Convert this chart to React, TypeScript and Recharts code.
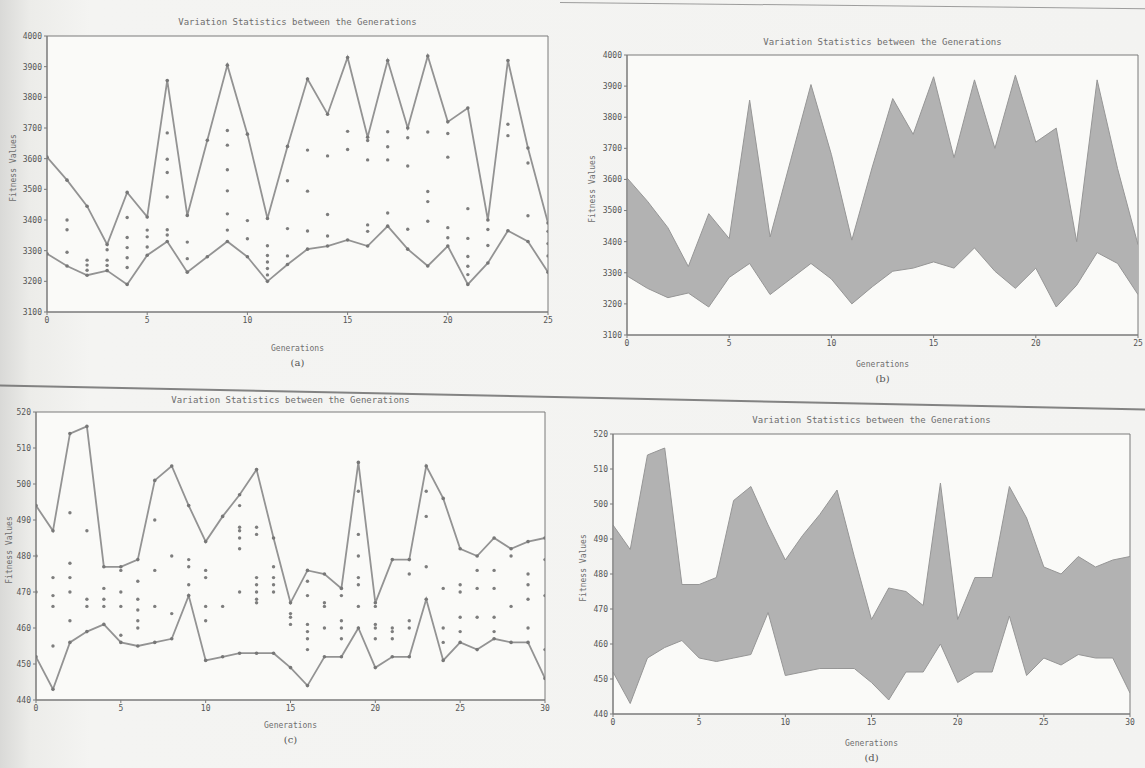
import React from "react";
import { ComposedChart, Line, Area, Scatter, XAxis, YAxis, ReferenceArea } from "recharts";

// generations 0..25 for panels (a)/(b), 0..30 for (c)/(d)
const gensA = [0, 1, 2, 3, 4, 5, 6, 7, 8, 9, 10, 11, 12, 13, 14, 15, 16, 17, 18, 19, 20, 21, 22, 23, 24, 25];
const maxA = [3605, 3530, 3445, 3320, 3490, 3410, 3855, 3415, 3660, 3905, 3680, 3405, 3640, 3860, 3745, 3930, 3670, 3920, 3700, 3935, 3720, 3765, 3400, 3920, 3635, 3390];
const minA = [3290, 3250, 3220, 3235, 3190, 3285, 3330, 3230, 3280, 3330, 3280, 3200, 3255, 3305, 3315, 3335, 3315, 3380, 3305, 3250, 3315, 3190, 3260, 3365, 3330, 3230];
// population members between min and max: [generation, fitness]
const popA: [number, number][] = [
  [1, 3400], [1, 3368], [1, 3295],
  [2, 3269], [2, 3253], [2, 3236],
  [3, 3303], [3, 3269], [3, 3252],
  [4, 3408], [4, 3343], [4, 3310], [4, 3277], [4, 3245],
  [5, 3367], [5, 3345], [5, 3312],
  [6, 3684], [6, 3598], [6, 3555], [6, 3475], [6, 3368], [6, 3351],
  [7, 3328], [7, 3274],
  [9, 3692], [9, 3644], [9, 3564], [9, 3495], [9, 3420], [9, 3367],
  [10, 3398], [10, 3339],
  [11, 3316], [11, 3284], [11, 3263], [11, 3242], [11, 3221],
  [12, 3528], [12, 3372], [12, 3283],
  [13, 3628], [13, 3494], [13, 3364],
  [14, 3609], [14, 3418], [14, 3348],
  [15, 3689], [15, 3630],
  [16, 3659], [16, 3596], [16, 3384], [16, 3363],
  [17, 3688], [17, 3639], [17, 3596], [17, 3423],
  [18, 3668], [18, 3576], [18, 3370],
  [19, 3687], [19, 3493], [19, 3460], [19, 3396],
  [20, 3682], [20, 3605], [20, 3375], [20, 3342],
  [21, 3437], [21, 3340], [21, 3281], [21, 3249], [21, 3222],
  [22, 3369], [22, 3317],
  [23, 3712], [23, 3675],
  [24, 3586], [24, 3414],
  [25, 3363], [25, 3323], [25, 3283],
];

const gensC = [0, 1, 2, 3, 4, 5, 6, 7, 8, 9, 10, 11, 12, 13, 14, 15, 16, 17, 18, 19, 20, 21, 22, 23, 24, 25, 26, 27, 28, 29, 30];
const maxC = [494, 487, 514, 516, 477, 477, 479, 501, 505, 494, 484, 491, 497, 504, 485, 467, 476, 475, 471, 506, 467, 479, 479, 505, 496, 482, 480, 485, 482, 484, 485];
const minC = [452, 443, 456, 459, 461, 456, 455, 456, 457, 469, 451, 452, 453, 453, 453, 449, 444, 452, 452, 460, 449, 452, 452, 468, 451, 456, 454, 457, 456, 456, 446];
const popC: [number, number][] = [
  [0, 480], [0, 470],
  [1, 474], [1, 469], [1, 466], [1, 455],
  [2, 492], [2, 478], [2, 474], [2, 470], [2, 462],
  [3, 487], [3, 468], [3, 466],
  [4, 471], [4, 468], [4, 466],
  [5, 476], [5, 470], [5, 466], [5, 458],
  [6, 473], [6, 468], [6, 465], [6, 462], [6, 460],
  [7, 490], [7, 476], [7, 466],
  [8, 480], [8, 464],
  [9, 479], [9, 477], [9, 472],
  [10, 476], [10, 474], [10, 466], [10, 462],
  [11, 466],
  [12, 494], [12, 488], [12, 487], [12, 485], [12, 482], [12, 470],
  [13, 488], [13, 486], [13, 474], [13, 472], [13, 470], [13, 468], [13, 467],
  [14, 477], [14, 474], [14, 472], [14, 470],
  [15, 464], [15, 463], [15, 461],
  [16, 473], [16, 469], [16, 461], [16, 459], [16, 457], [16, 454],
  [17, 467], [17, 466], [17, 460],
  [18, 469], [18, 462], [18, 460], [18, 457],
  [19, 498], [19, 486], [19, 480], [19, 474], [19, 472], [19, 466],
  [20, 466], [20, 461], [20, 460], [20, 457],
  [21, 460], [21, 459], [21, 457],
  [22, 475], [22, 462], [22, 460],
  [23, 498], [23, 491], [23, 477],
  [24, 471], [24, 460], [24, 456],
  [25, 472], [25, 470], [25, 463], [25, 459],
  [26, 476], [26, 471], [26, 463],
  [27, 476], [27, 471], [27, 463], [27, 459],
  [28, 480], [28, 466],
  [29, 475], [29, 472], [29, 468], [29, 460],
  [30, 479], [30, 469], [30, 454],
];

const fitTicksA = [3100, 3200, 3300, 3400, 3500, 3600, 3700, 3800, 3900, 4000];
const fitTicksC = [440, 450, 460, 470, 480, 490, 500, 510, 520];
const genTicksA = [0, 5, 10, 15, 20, 25];
const genTicksC = [0, 5, 10, 15, 20, 25, 30];

const rowsA = gensA.map((g, i) => ({ g, hi: maxA[i], lo: minA[i], range: [minA[i], maxA[i]] }));
const rowsC = gensC.map((g, i) => ({ g, hi: maxC[i], lo: minC[i], range: [minC[i], maxC[i]] }));
const dotsA = popA.map(([g, v]) => ({ g, v }));
const dotsC = popC.map(([g, v]) => ({ g, v }));

const MONO = "'DejaVu Sans Mono', monospace";
const INK = "#6e6e6e";

type Box = { left: number; top: number; width: number; height: number };

const smallDot = (p: any) => <circle cx={p.cx} cy={p.cy} r={1.7} fill="#7d7d7d" />;

function Panel({ box, rows, dots, band, yTicks, xTicks, caption, titleY, labelY, yLabelX }: {
  box: Box; rows: any[]; dots?: any[]; band?: boolean; yTicks: number[]; xTicks: number[];
  caption: string; titleY: number; labelY: number; yLabelX: number;
}) {
  const { left, top, width, height } = box;
  const yDom = [yTicks[0], yTicks[yTicks.length - 1]];
  const xDom = [xTicks[0], xTicks[xTicks.length - 1]];
  const cx = left + width / 2;
  const tick = { fontSize: 8, fill: "#555", fontFamily: MONO };
  return (
    <>
      <div style={{ position: "absolute", left: left - 40, top: top - 10 }}>
        <ComposedChart width={width + 48} height={height + 32} data={rows}
          margin={{ top: 10, right: 8, left: 10, bottom: 6 }}>
          <ReferenceArea x1={xDom[0]} x2={xDom[1]} y1={yDom[0]} y2={yDom[1]}
            fill="#fafaf8" fillOpacity={1} stroke="#7a7a7a" strokeWidth={1} />
          <XAxis dataKey="g" type="number" domain={xDom} ticks={xTicks} tickSize={3}
            tick={tick} stroke="#7a7a7a" height={16} allowDataOverflow />
          <YAxis type="number" domain={yDom} ticks={yTicks} tickSize={3} width={30}
            tick={tick} stroke="#7a7a7a" allowDataOverflow />
          {band ? (
            <Area dataKey="range" type="linear" fill="#b2b2b2" fillOpacity={1}
              stroke="#969696" strokeWidth={1} isAnimationActive={false} />
          ) : null}
          {!band ? (
            <Line dataKey="hi" type="linear" stroke="#939393" strokeWidth={1.8}
              dot={{ r: 1.8, fill: "#777", stroke: "none" }} isAnimationActive={false} />
          ) : null}
          {!band ? (
            <Line dataKey="lo" type="linear" stroke="#939393" strokeWidth={1.8}
              dot={{ r: 1.8, fill: "#777", stroke: "none" }} isAnimationActive={false} />
          ) : null}
          {!band ? (
            <Scatter data={dots} dataKey="v" fill="#7d7d7d" shape={smallDot}
              isAnimationActive={false} />
          ) : null}
        </ComposedChart>
      </div>
      <div style={{ position: "absolute", left: cx - 200, width: 400, top: titleY - 7, textAlign: "center",
        fontFamily: MONO, fontSize: 9, color: INK, whiteSpace: "nowrap" }}>
        Variation Statistics between the Generations
      </div>
      <div style={{ position: "absolute", left: yLabelX, top: top + height / 2 - 6, width: 0, height: 0 }}>
        <div style={{ transform: "translate(-50%, -50%) rotate(-90deg)", fontFamily: MONO, fontSize: 8,
          color: INK, whiteSpace: "nowrap", position: "absolute" }}>
          Fitness Values
        </div>
      </div>
      <div style={{ position: "absolute", left: cx - 100, width: 200, top: labelY - 6, textAlign: "center",
        fontFamily: MONO, fontSize: 8, color: INK }}>
        Generations
      </div>
      <div style={{ position: "absolute", left: cx - 100, width: 200, top: labelY + 7, textAlign: "center",
        fontFamily: "'DejaVu Serif', serif", fontSize: 10, color: "#555" }}>
        {caption}
      </div>
    </>
  );
}

export default function App() {
  return (
    <div style={{ position: "fixed", left: 0, top: 0, width: 1145, height: 768, overflow: "hidden",
      background: "linear-gradient(to right, #d9d9d7 0px, #ecece9 30px, #f4f4f2 90px, #f3f3f1 100%)" }}>
      <div style={{ position: "absolute", left: -20, top: 384, width: 1200, height: 2, background: "#666",
        transform: "rotate(1.2deg)", transformOrigin: "left center", opacity: 0.8 }} />
      <div style={{ position: "absolute", left: 560, top: 2, width: 600, height: 1, background: "#777",
        transform: "rotate(0.6deg)", transformOrigin: "left center", opacity: 0.7 }} />
      <Panel box={{ left: 47, top: 36, width: 501, height: 276 }} rows={rowsA} dots={dotsA}
        yTicks={fitTicksA} xTicks={genTicksA} caption="(a)" titleY={24} labelY={350} yLabelX={13} />
      <Panel box={{ left: 627, top: 55, width: 511, height: 280 }} rows={rowsA} band
        yTicks={fitTicksA} xTicks={genTicksA} caption="(b)" titleY={44} labelY={366} yLabelX={592} />
      <Panel box={{ left: 36, top: 412, width: 509, height: 288 }} rows={rowsC} dots={dotsC}
        yTicks={fitTicksC} xTicks={genTicksC} caption="(c)" titleY={402} labelY={727} yLabelX={9} />
      <Panel box={{ left: 613, top: 434, width: 517, height: 280 }} rows={rowsC} band
        yTicks={fitTicksC} xTicks={genTicksC} caption="(d)" titleY={422} labelY={745} yLabelX={583} />
    </div>
  );
}
